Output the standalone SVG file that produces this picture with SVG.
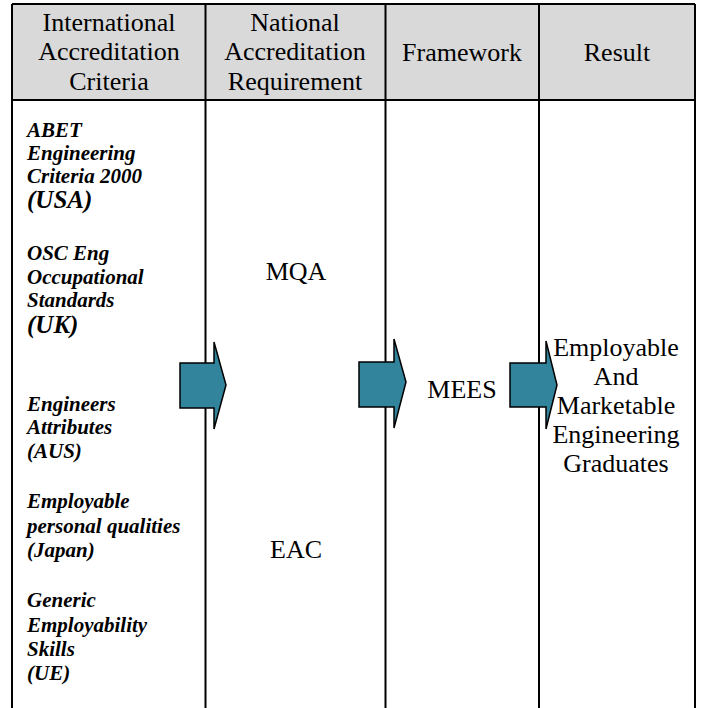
<svg xmlns="http://www.w3.org/2000/svg" width="701" height="708" viewBox="0 0 701 708">
<defs>
<style>
.hd{font-family:"Liberation Serif","Times New Roman",serif;font-size:26px;fill:#000;text-anchor:middle}
.bd{font-family:"Liberation Serif","Times New Roman",serif;font-size:26px;fill:#000;text-anchor:middle}
.it{font-family:"Liberation Serif","Times New Roman",serif;font-size:21px;font-weight:bold;font-style:italic;fill:#000}
.itb{font-size:25px}
.ln{stroke:#000;stroke-width:2;fill:none}
.arw{fill:#31849B;stroke:#000;stroke-width:1.5;stroke-linejoin:miter}
</style>
</defs>
<rect width="701" height="708" fill="#fff"/>
<g id="header">
<rect x="12" y="4" width="683" height="96" fill="#D9D9D9"/>
<text class="hd" x="109" y="31">International</text>
<text class="hd" x="109" y="60">Accreditation</text>
<text class="hd" x="109" y="90">Criteria</text>
<text class="hd" x="295" y="31">National</text>
<text class="hd" x="295" y="60">Accreditation</text>
<text class="hd" x="295" y="90">Requirement</text>
<text class="hd" x="462" y="61">Framework</text>
<text class="hd" x="617" y="61">Result</text>
</g>
<g id="grid">
<path class="ln" d="M12 4H695M12 100H695M12 4V708M205.5 4V708M385.5 4V708M539 4V708M695 4V708"/>
</g>
<g id="criteria">
<text class="it" x="27" y="137">ABET</text>
<text class="it" x="27" y="160">Engineering</text>
<text class="it" x="27" y="183">Criteria 2000</text>
<text class="it itb" x="27" y="208">(USA)</text>
<text class="it" x="27" y="260">OSC Eng</text>
<text class="it" x="27" y="284">Occupational</text>
<text class="it" x="27" y="307">Standards</text>
<text class="it itb" x="27" y="333">(UK)</text>
<text class="it" x="27" y="411">Engineers</text>
<text class="it" x="27" y="434">Attributes</text>
<text class="it" x="27" y="458">(AUS)</text>
<text class="it" x="27" y="508">Employable</text>
<text class="it" x="27" y="533">personal qualities</text>
<text class="it" x="27" y="557">(Japan)</text>
<text class="it" x="27" y="607">Generic</text>
<text class="it" x="27" y="632">Employability</text>
<text class="it" x="27" y="656">Skills</text>
<text class="it" x="27" y="680">(UE)</text>
</g>
<g id="national">
<text class="bd" x="296" y="280">MQA</text>
<text class="bd" x="296" y="558">EAC</text>
</g>
<g id="framework">
<text class="bd" x="462" y="398">MEES</text>
</g>
<g id="result">
<text class="bd" x="616" y="356">Employable</text>
<text class="bd" x="616" y="385">And</text>
<text class="bd" x="616" y="414">Marketable</text>
<text class="bd" x="616" y="443">Engineering</text>
<text class="bd" x="616" y="472">Graduates</text>
</g>
<g id="connectors">
<path class="arw" d="M180 363H214V342L226 385L214 429V408H180Z"/>
<path class="arw" d="M359 362H394V339L406 382L394 428V407H359Z"/>
<path class="arw" d="M510 363H546V341L557 385L546 429V407H510Z"/>
</g>
</svg>
